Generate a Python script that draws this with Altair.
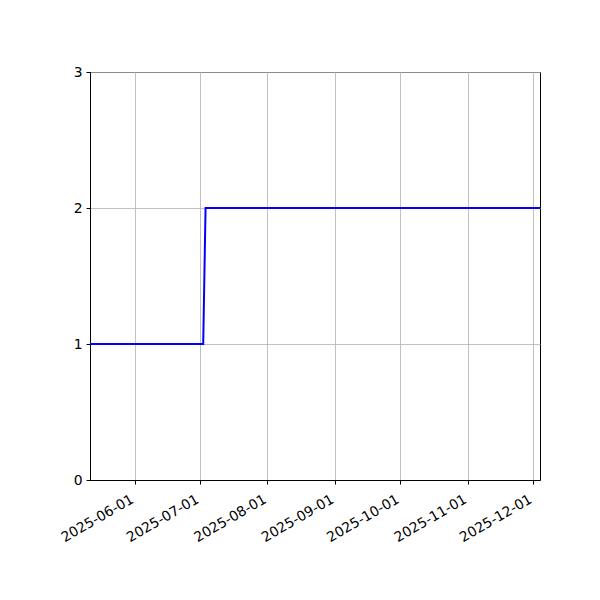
import altair as alt
import pandas as pd

dates = ["2025-05-11T12:00:00Z", "2025-07-02T12:00:00Z", "2025-07-03T14:00:00Z", "2025-12-04T06:00:00Z"]
values = [1, 1, 2, 2]
tick_dates = ["2025-06-01", "2025-07-01", "2025-08-01", "2025-09-01", "2025-10-01", "2025-11-01", "2025-12-01"]
y_ticks = [0, 1, 2, 3]

df = pd.DataFrame({"date": dates, "value": values})

def dt(s, h=0):
    y, m, d = map(int, s.split("-"))
    return alt.DateTime(year=y, month=m, date=d, hours=h, utc=True)

x_domain = [dt("2025-05-11", 12), dt("2025-12-04", 5)]

chart = alt.Chart(df).mark_line(color="#0000ff", strokeWidth=2, clip=True).encode(
    x=alt.X("date:T", title=None,
            scale=alt.Scale(type="utc", domain=x_domain),
            axis=alt.Axis(values=[dt(s) for s in tick_dates], format="%Y-%m-%d",
                          labelAngle=-30, labelAlign="right", labelBaseline="top",
                          labelPadding=8, labelOffset=-6, grid=True)),
    y=alt.Y("value:Q", title=None,
            scale=alt.Scale(domain=[0, 3], nice=False, zero=False),
            axis=alt.Axis(values=y_ticks, format="d", grid=True, labelPadding=4)),
).properties(
    width=450, height=408,
    autosize=alt.AutoSizeParams(type="none"),
    padding={"left": 82, "top": 64, "right": 52, "bottom": 112},
).configure_view(
    stroke="black", strokeWidth=1
).configure_axis(
    domainColor="black", domainWidth=1, tickColor="black", tickSize=4, tickWidth=1,
    gridColor="#b0b0b0", gridWidth=0.8, labelColor="black",
    labelFont="DejaVu Sans", labelFontSize=13.9, labelOverlap=False, labelFlush=False,
)

chart.save("out.html", embed_options={"renderer": "svg", "actions": False})
